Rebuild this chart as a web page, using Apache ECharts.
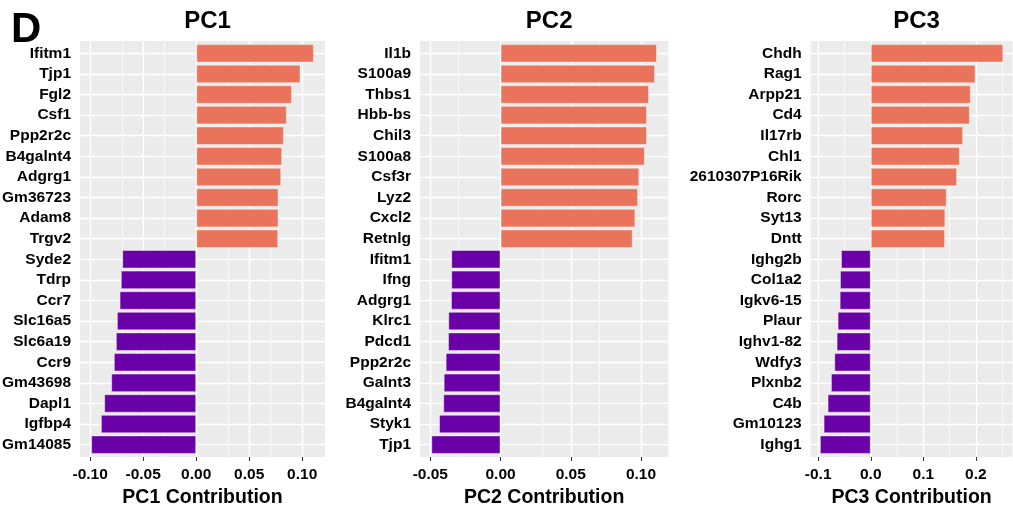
<!DOCTYPE html>
<html>
<head>
<meta charset="utf-8">
<script src="https://cdn.jsdelivr.net/npm/echarts@6/dist/echarts.min.js"></script>
<style>
  html, body { margin: 0; padding: 0; background: #fff; }
  #chart { width: 1013px; height: 506px; }
</style>
</head>
<body>
<div id="chart"></div>
<script>
// ---------------- data ----------------
const pc1Genes = ['Ifitm1','Tjp1','Fgl2','Csf1','Ppp2r2c','B4galnt4','Adgrg1','Gm36723','Adam8','Trgv2',
                  'Syde2','Tdrp','Ccr7','Slc16a5','Slc6a19','Ccr9','Gm43698','Dapl1','Igfbp4','Gm14085'];
const pc1Values = [0.111,0.0984,0.0903,0.0855,0.0827,0.0811,0.0802,0.0777,0.0777,0.0774,
                   -0.0698,-0.0711,-0.0723,-0.0748,-0.0758,-0.0777,-0.0802,-0.0868,-0.0899,-0.0991];

const pc2Genes = ['Il1b','S100a9','Thbs1','Hbb-bs','Chil3','S100a8','Csf3r','Lyz2','Cxcl2','Retnlg',
                  'Ifitm1','Ifng','Adgrg1','Klrc1','Pdcd1','Ppp2r2c','Galnt3','B4galnt4','Styk1','Tjp1'];
const pc2Values = [0.1114,0.110,0.1057,0.1043,0.1043,0.1028,0.0988,0.0979,0.0960,0.0941,
                   -0.0351,-0.0351,-0.0353,-0.0372,-0.0374,-0.0391,-0.0405,-0.0408,-0.0438,-0.0493];

const pc3Genes = ['Chdh','Rag1','Arpp21','Cd4','Il17rb','Chl1','2610307P16Rik','Rorc','Syt13','Dntt',
                  'Ighg2b','Col1a2','Igkv6-15','Plaur','Ighv1-82','Wdfy3','Plxnb2','C4b','Gm10123','Ighg1'];
const pc3Values = [0.2522,0.1994,0.1904,0.1885,0.1758,0.1694,0.1643,0.1446,0.1420,0.1414,
                   -0.0567,-0.0586,-0.0592,-0.0631,-0.0650,-0.0694,-0.0758,-0.0822,-0.0898,-0.0968];

const pc1Ticks = [-0.1,-0.05,0,0.05,0.1];
const pc1Minor = [-0.075,-0.025,0.025,0.075];
const pc2Ticks = [-0.05,0,0.05,0.1];
const pc2Minor = [-0.025,0.025,0.075];
const pc3Ticks = [-0.1,0,0.1,0.2];
const pc3Minor = [-0.05,0.05,0.15,0.25];

const panelTitles = ['PC1','PC2','PC3'];
const axisTitles = ['PC1 Contribution','PC2 Contribution','PC3 Contribution'];
const tickDecimals = [2,2,1];

// ---------------- layout / style ----------------
const POS_COLOR = '#EA735B';
const NEG_COLOR = '#6A00A8';
const PANEL_BG = '#EBEBEB';
const FONT = '"Liberation Sans", Arial, Helvetica, sans-serif';
const plotTop = 41, plotH = 416;
const panelLeft = [80, 420, 810.7];
const panelWidth = [245, 248.3, 201.8];

const panels = [
  {genes: pc1Genes, values: pc1Values, ticks: pc1Ticks, minor: pc1Minor},
  {genes: pc2Genes, values: pc2Values, ticks: pc2Ticks, minor: pc2Minor},
  {genes: pc3Genes, values: pc3Values, ticks: pc3Ticks, minor: pc3Minor}
];

const grids = [], xAxes = [], yAxes = [], series = [], titles = [];
const unit = plotH / (pc1Genes.length - 1 + 1.2);

panels.forEach((p, i) => {
  const dmin = Math.min(0, ...p.values), dmax = Math.max(0, ...p.values);
  const span = dmax - dmin;
  const xmin = dmin - 0.05 * span, xmax = dmax + 0.05 * span;
  const bg = i * 2, dg = i * 2 + 1;
  const n = p.genes.length;

  grids.push({left: panelLeft[i], top: plotTop, width: panelWidth[i], height: plotH,
              show: true, backgroundColor: PANEL_BG, borderWidth: 0, outerBoundsMode: 'none'});
  grids.push({left: panelLeft[i], top: plotTop + 0.1 * unit, width: panelWidth[i], height: n * unit,
              show: false, outerBoundsMode: 'none'});

  // background grid axes (x labels, ticks, title)
  xAxes.push({
    type: 'value', gridIndex: bg, min: xmin, max: xmax,
    axisLine: {show: false},
    splitLine: {show: false},
    axisTick: {show: true, length: 4, lineStyle: {color: '#333', width: 1}, customValues: p.ticks},
    axisLabel: {customValues: p.ticks, margin: 10, color: '#000', fontFamily: FONT,
                fontWeight: 'bold', fontSize: 15.5,
                formatter: v => v.toFixed(tickDecimals[i])},
    name: axisTitles[i], nameLocation: 'middle', nameGap: 23,
    nameTextStyle: {color: '#000', fontFamily: FONT, fontWeight: 'bold', fontSize: 19.5}
  });
  yAxes.push({type: 'value', gridIndex: bg, min: 0, max: 1, show: false});

  // data grid axes
  xAxes.push({type: 'value', gridIndex: dg, min: xmin, max: xmax, show: false});
  yAxes.push({
    type: 'category', gridIndex: dg, data: p.genes, inverse: true,
    axisLine: {show: false},
    splitLine: {show: false},
    axisTick: {show: true, alignWithLabel: true, interval: 0, length: 4, lineStyle: {color: '#333', width: 1}},
    axisLabel: {interval: 0, hideOverlap: false, margin: 9, color: '#000', fontFamily: FONT,
                fontWeight: 'bold', fontSize: 15.5}
  });

  // vertical grid lines (major + minor), behind bars
  series.push({
    type: 'line', xAxisIndex: bg, yAxisIndex: bg, data: [], z: 1, silent: true,
    markLine: {
      z: 1, silent: true, animation: false, symbol: ['none','none'], label: {show: false},
      emphasis: {disabled: true},
      data: p.ticks.map(v => ({xAxis: v, lineStyle: {color: '#fff', width: 1.4, type: 'solid'}}))
        .concat(p.minor.map(v => ({xAxis: v, lineStyle: {color: '#fff', width: 0.7, type: 'solid'}})))
    }
  });
  // horizontal grid lines at category centres
  series.push({
    type: 'line', xAxisIndex: dg, yAxisIndex: dg, data: [], z: 1, silent: true,
    markLine: {
      z: 1, silent: true, animation: false, symbol: ['none','none'], label: {show: false},
      emphasis: {disabled: true},
      data: p.genes.map((g, k) => ({yAxis: k, lineStyle: {color: '#fff', width: 1.4, type: 'solid'}}))
    }
  });
  // bars
  series.push({
    type: 'bar', xAxisIndex: dg, yAxisIndex: dg, z: 3, barWidth: '90%',
    data: p.values.map(v => ({value: v, itemStyle: {color: v >= 0 ? POS_COLOR : NEG_COLOR}})),
    itemStyle: {borderColor: 'rgba(255,255,255,0.45)', borderWidth: 1},
    emphasis: {disabled: true}
  });

  titles.push({
    text: panelTitles[i], left: panelLeft[i] + panelWidth[i] / 2, top: 4, textAlign: 'center',
    textStyle: {color: '#000', fontFamily: FONT, fontWeight: 'bold', fontSize: 24}
  });
});

titles.push({
  text: 'D', left: 6, top: 4,
  textStyle: {color: '#000', fontFamily: FONT, fontWeight: 'bold', fontSize: 42}
});

const chart = echarts.init(document.getElementById('chart'), null, {renderer: 'canvas'});
chart.setOption({
  animation: false,
  backgroundColor: '#fff',
  title: titles,
  grid: grids,
  xAxis: xAxes,
  yAxis: yAxes,
  series: series
});
</script>
</body>
</html>
